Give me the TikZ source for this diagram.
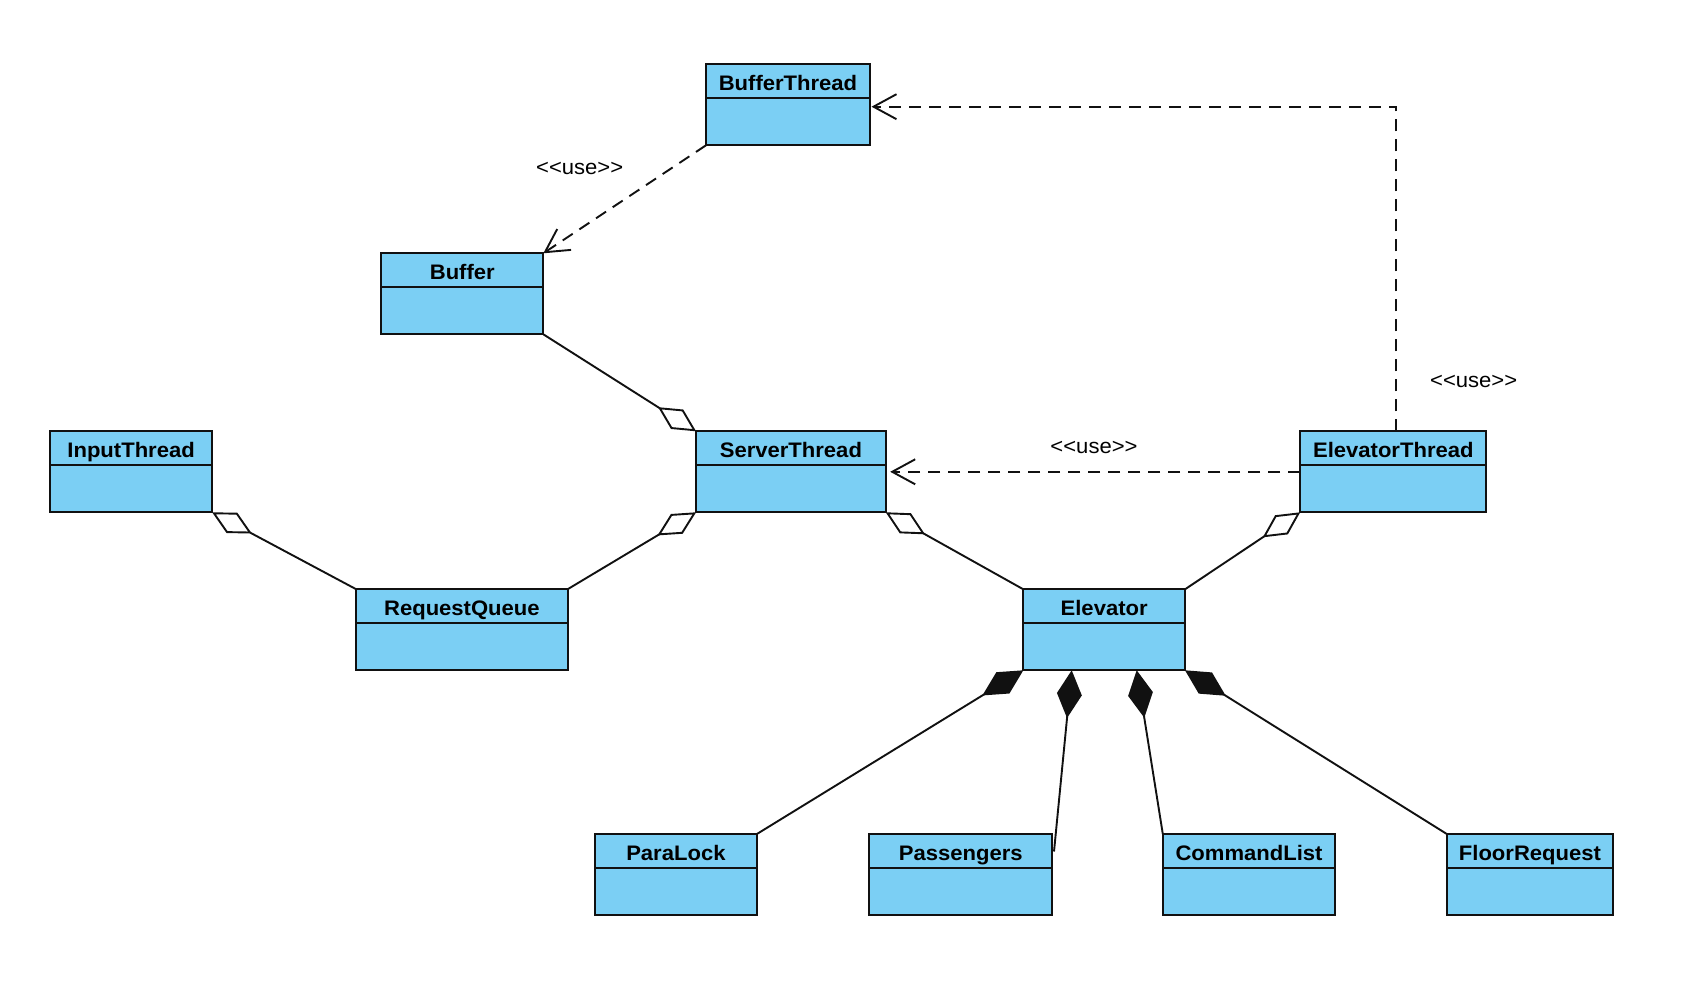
\documentclass[tikz,border=0pt]{standalone}
\usepackage{fontspec}
\setmainfont{Liberation Sans}
\newfontfamily\hdfont{Liberation Sans}[FakeStretch=1.05]
\usetikzlibrary{arrows.meta}
\definecolor{clsfill}{HTML}{7BCFF4}
\definecolor{clsline}{HTML}{111111}
\begin{document}
\begin{tikzpicture}[x=1pt,y=-1pt,
  cls/.style={draw=clsline, line width=2pt, fill=clsfill, anchor=north west,
    inner xsep=0pt, inner ysep=0pt, outer sep=0pt, minimum height=81pt,
    text height=26.5pt, text depth=54.5pt,
    font=\hdfont\bfseries\fontsize{21}{24}\selectfont},
  lbl/.style={font=\hdfont\fontsize{21}{24}\selectfont, inner sep=0pt},
  conn/.style={draw=clsline, line width=1.9pt},
  dep/.style={conn, dash pattern=on 12pt off 8pt, -{Straight Barb[length=23pt,width=25pt,line width=1.9pt]}},
  agg/.style={conn, {Diamond[open,length=45pt,width=23pt,line width=1.9pt]}-},
  aggend/.style={conn, -{Diamond[open,length=45pt,width=23pt,line width=1.9pt]}},
  comp/.style={conn, {Diamond[length=48pt,width=25pt]}-}
]
\useasboundingbox (0,0) rectangle (1683,981);
% classes
\node[cls, minimum width=164pt] (bt) at (706,64.3) {BufferThread};
\node[cls, minimum width=162pt] (buf) at (381.3,253.3) {Buffer};
\node[cls, minimum width=162pt] (it) at (50.1,431.3) {InputThread};
\node[cls, minimum width=189.6pt] (st) at (696.1,431.3) {ServerThread};
\node[cls, minimum width=186.2pt] (et) at (1300.2,431.3) {ElevatorThread};
\node[cls, minimum width=211.2pt] (rq) at (356.3,589.3) {RequestQueue};
\node[cls, minimum width=161.7pt] (el) at (1023.3,589.3) {Elevator};
\node[cls, minimum width=162pt] (pl) at (594.9,834) {ParaLock};
\node[cls, minimum width=182.6pt] (pa) at (869.4,834) {Passengers};
\node[cls, minimum width=172.4pt] (cl) at (1162.8,834) {CommandList};
\node[cls, minimum width=166.3pt] (fr) at (1446.8,834) {FloorRequest};
\foreach \n in {bt,buf,it,st,et,rq,el,pl,pa,cl,fr}
  \draw[draw=clsline, line width=2pt] ([yshift=-34pt]\n.north west) -- ([yshift=-34pt]\n.north east);
% dependencies
\draw[dep] (bt.south west) -- (buf.north east);
\node[lbl] (u1) at (579.7,168.3) {<\kern0pt<use>\kern0pt>};
\coordinate (k) at (1396.3,106.7);
\draw[dep, shorten >=1.5pt] (et.north -| k) -- (k) -- (bt.east |- k);
\node[lbl] (u2) at (1473.7,381.7) {<\kern0pt<use>\kern0pt>};
\draw[dep, shorten >=4.5pt] (et.west) -- (st.east);
\node[lbl] (u3) at (1094,447.7) {<\kern0pt<use>\kern0pt>};
% aggregations
\draw[aggend] (buf.south east) -- (st.north west);
\draw[agg] (it.south east) -- (rq.north west);
\draw[agg] (st.south west) -- (rq.north east);
\draw[agg] (st.south east) -- (el.north west);
\draw[agg] (et.south west) -- (el.north east);
% compositions
\coordinate (pj) at ([xshift=48.4pt]el.south west);
\coordinate (cj) at ([xshift=113.4pt]el.south west);
\draw[comp] (el.south west) -- (pl.north east);
\draw[comp] (pj) -- ([xshift=2pt,yshift=-17.5pt]pa.north east);
\draw[comp] (cj) -- (cl.north west);
\draw[comp] (el.south east) -- (fr.north west);
\end{tikzpicture}
\end{document}
